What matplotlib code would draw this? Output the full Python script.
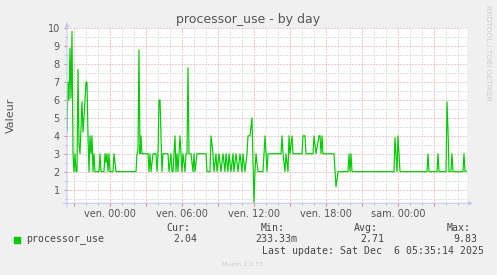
import numpy as np
import matplotlib
matplotlib.use("Agg")
import matplotlib.pyplot as plt
from matplotlib.ticker import MultipleLocator

# processor_use, one sample every 5 minutes, counted from Thu 20:25
sample = [0, 1, 2, 3, 4, 5, 6, 7, 8, 9, 10, 11, 12, 13, 14, 15, 16, 17, 18, 19,
          20, 21, 22, 23, 24, 25, 26, 27, 28, 32, 33, 34, 37, 38, 39, 40, 41, 42, 43, 46,
          47, 49, 69, 70, 71, 72, 73, 74, 75, 81, 82, 83, 84, 86, 89, 90, 91, 92, 93, 95,
          96, 101, 102, 104, 105, 106, 108, 109, 110, 111, 112, 113, 115, 116, 118, 119, 120, 121, 122, 124,
          126, 127, 128, 130, 139, 140, 143, 144, 146, 147, 149, 150, 152, 154, 156, 158, 159, 161, 162, 164,
          166, 167, 169, 171, 173, 175, 176, 178, 180, 181, 183, 185, 187, 188, 189, 191, 196, 198, 199, 200,
          201, 214, 215, 216, 218, 219, 221, 222, 223, 225, 226, 235, 236, 238, 239, 246, 247, 249, 252, 253,
          254, 255, 256, 267, 269, 271, 281, 282, 283, 284, 285, 327, 328, 330, 331, 333, 360, 361, 362, 370,
          371, 372, 379, 380, 381, 382, 384, 385, 386, 396, 397, 398, 400]
value = [4.2, 7.0, 6.0, 8.9, 6.1, 9.83, 3.0, 2.0, 3.0, 2.0, 2.0, 7.7, 3.5, 3.0, 4.5, 5.9, 4.2, 5.0, 6.0, 7.0,
         7.0, 4.0, 2.0, 4.0, 3.0, 4.0, 2.0, 3.0, 2.0, 2.0, 3.0, 2.0, 2.0, 3.0, 2.5, 3.0, 2.0, 3.0, 2.0, 2.0,
         3.0, 2.0, 2.0, 3.0, 3.2, 8.8, 3.0, 4.0, 3.0, 3.0, 2.0, 3.0, 2.0, 3.0, 3.0, 2.0, 3.0, 6.0, 6.0, 2.0,
         3.0, 3.0, 2.0, 3.0, 2.0, 2.0, 4.0, 2.0, 3.0, 2.0, 3.0, 4.0, 2.0, 3.0, 2.0, 3.0, 3.0, 7.8, 3.0, 3.0,
         2.0, 3.0, 2.0, 3.0, 3.0, 2.0, 2.0, 4.0, 3.0, 2.0, 3.0, 2.0, 3.0, 2.0, 3.0, 2.0, 3.0, 2.0, 3.0, 2.0,
         3.0, 2.0, 3.0, 2.0, 3.0, 2.0, 3.0, 2.0, 3.0, 4.0, 4.0, 5.0, 0.2333, 2.0, 3.0, 2.0, 2.0, 4.0, 3.0, 2.0,
         3.0, 3.0, 4.0, 3.0, 2.0, 3.0, 2.0, 4.0, 3.0, 4.0, 3.0, 3.0, 4.0, 4.0, 3.0, 3.0, 4.0, 3.0, 4.0, 4.0,
         3.0, 4.0, 3.0, 3.0, 1.15, 2.0, 2.0, 3.0, 2.0, 3.0, 2.0, 2.0, 3.9, 2.0, 4.0, 2.0, 2.0, 3.0, 2.0, 2.0,
         3.0, 2.0, 2.0, 5.9, 4.3, 2.0, 2.0, 3.0, 2.0, 2.0, 3.0, 2.0, 2.04]

start_hour = -(3 + 35 / 60)   # Thu 20:25, hours relative to Fri 00:00
n_samples = 400

tick_hours = [0, 6, 12, 18, 24]
tick_labels = ["ven. 00:00", "ven. 06:00", "ven. 12:00", "ven. 18:00", "sam. 00:00"]

stat_names = ["Cur:", "Min:", "Avg:", "Max:"]
stat_values = ["2.04", "233.33m", "2.71", "9.83"]

W, H = 497, 275
BG = "#f0f0f0"
TXT = "#555555"
AXC = "#c4caf2"


def px(x, y):
    return x / W, 1 - y / H


fig = plt.figure(figsize=(W / 100, H / 100), dpi=100, facecolor=BG)
ax = fig.add_axes([67 / W, 1 - 203.3 / H, 400 / W, 175 / H], facecolor="white")

hours = start_hour + np.array(sample) * 5 / 60
ax.plot(hours, value, color="#00cc00", lw=0.85, zorder=3)

ax.set_xlim(start_hour, start_hour + n_samples * 5 / 60)
ax.set_ylim(0.2333, 10)

major_x = np.arange(-3, 30, 3)
ax.set_xticks(major_x)
ax.set_xticklabels([tick_labels[tick_hours.index(h)] if h in tick_hours else "" for h in major_x])
ax.xaxis.set_minor_locator(MultipleLocator(1))
ax.set_yticks(range(1, 11))
ax.yaxis.set_minor_locator(MultipleLocator(0.5))

dots = (0, (1, 2))
ax.grid(True, which="minor", color="#c4c4c4", linestyle=dots, lw=0.72)
ax.grid(True, which="major", color="#e89090", linestyle=dots, lw=0.72)
ax.set_axisbelow(True)

ax.tick_params(which="major", length=2.2, width=0.7, color="#e08080",
               labelsize=7, labelcolor=TXT, pad=2)
ax.tick_params(which="minor", length=1.5, width=0.7, color="#bbbbbb")
ax.tick_params(axis="y", pad=3)

for s in ax.spines.values():
    s.set_visible(False)

ax.annotate("", xy=(1 + 6 / 400, 0), xytext=(-4 / 400, 0), xycoords="axes fraction",
            arrowprops=dict(arrowstyle="-|>", color=AXC, lw=0.8, mutation_scale=6,
                            shrinkA=0, shrinkB=0), annotation_clip=False)
ax.annotate("", xy=(0, 1 + 6 / 175), xytext=(0, -4 / 175), xycoords="axes fraction",
            arrowprops=dict(arrowstyle="-|>", color=AXC, lw=0.8, mutation_scale=6,
                            shrinkA=0, shrinkB=0), annotation_clip=False)

fig.text(*px(248.5, 19), "processor_use - by day", ha="center", va="center",
         fontsize=9, color=TXT)
fig.text(*px(11, 115), "Valeur", ha="center", va="center", rotation=90,
         fontsize=8, color=TXT)
fig.text(*px(488, 53), "RRDTOOL / TOBI OETIKER", ha="center", va="center",
         rotation=270, fontsize=5.4, color="#cccccc")

mono = dict(family="DejaVu Sans Mono", fontsize=7.15, color="#444444", va="center")
fig.patches.append(plt.Rectangle(px(14, 242.5), 6 / W, 6 / H, transform=fig.transFigure,
                                 color="#00cc00", figure=fig))
fig.text(*px(26.3, 239.5), "processor_use", ha="left", **mono)
head_x = [166.7, 261, 354.3, 446.7]
val_x = [173.3, 255.3, 360, 453.3]
for name, v, hx, vx in zip(stat_names, stat_values, head_x, val_x):
    fig.text(*px(hx, 227.7), name, ha="left", **mono)
    fig.text(*px(vx, 239.5), v, ha="left", **mono)
fig.text(*px(261.7, 251.5), "Last update: Sat Dec  6 05:35:14 2025", ha="left", **mono)
fig.text(*px(243, 264), "Munin 2.0.73", ha="center", va="center",
         fontsize=4.5, color="#c8c8c8")

fig.savefig("out.png", dpi=100, facecolor=BG)
